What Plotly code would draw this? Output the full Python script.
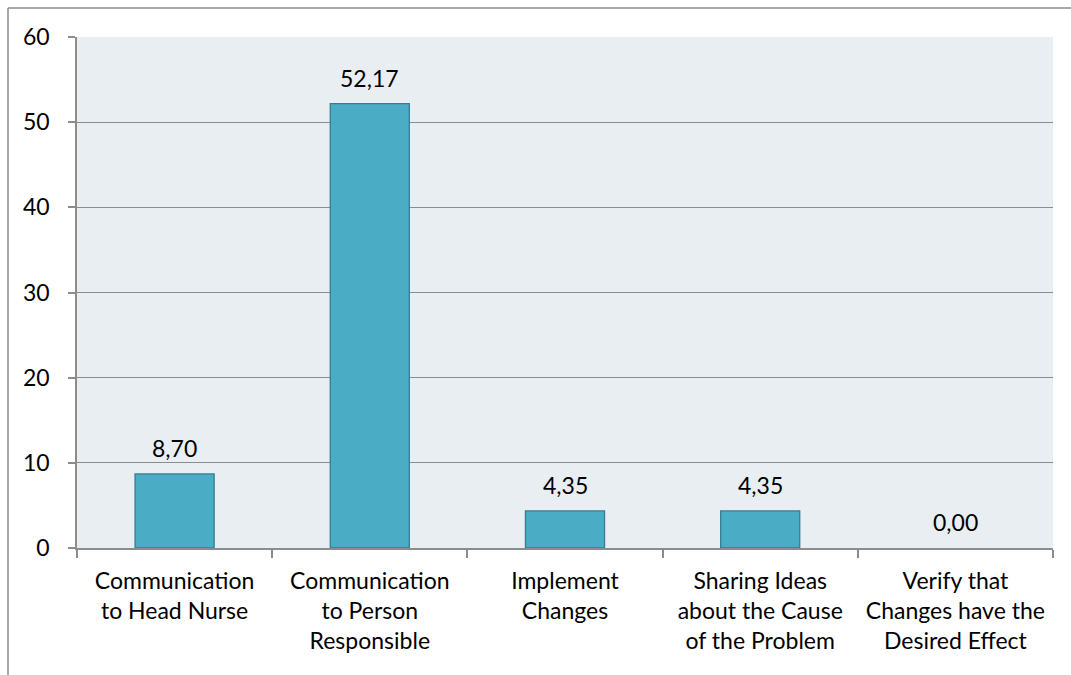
import plotly.graph_objects as go

categories = [
    "Communication<br>to Head Nurse",
    "Communication<br>to Person<br>Responsible",
    "Implement<br>Changes",
    "Sharing Ideas<br>about the Cause<br>of the Problem",
    "Verify that<br>Changes have the<br>Desired Effect",
]
values = [8.70, 52.17, 4.35, 4.35, 0.00]
y_ticks = [0, 10, 20, 30, 40, 50, 60]

FONT = "Lato, Open Sans, sans-serif"
FSIZE = 23
GRID = "#8c8c8c"

fig = go.Figure()
fig.add_trace(go.Bar(
    x=categories,
    y=values,
    width=0.405,
    marker=dict(
        color="#4BACC6",
        line=dict(color="#357D91", width=[1.3 if v > 0 else 0 for v in values]),
    ),
    hoverinfo="skip",
))

# value labels with comma decimal separator
for cat, v in zip(categories, values):
    fig.add_annotation(
        x=cat, y=v, text=f"{v:.2f}".replace(".", ","),
        showarrow=False, yanchor="bottom", yshift=10,
        font=dict(family=FONT, size=FSIZE, color="#000000"),
    )

fig.update_layout(
    width=1071, height=675,
    margin=dict(l=77, r=18, t=37, b=127),
    paper_bgcolor="#ffffff",
    plot_bgcolor="#E8EEF2",
    showlegend=False,
    font=dict(family=FONT, size=FSIZE, color="#000000"),
)
fig.update_xaxes(
    showline=True, linecolor=GRID, linewidth=1.5,
    ticks="outside", tickson="boundaries", ticklen=8, tickcolor=GRID, tickwidth=1.5,
    showgrid=False, tickfont=dict(family=FONT, size=FSIZE),
    ticklabelstandoff=12,
)
fig.update_yaxes(
    range=[0, 60], tickvals=y_ticks,
    showline=True, linecolor=GRID, linewidth=1.5,
    ticks="outside", ticklen=7, tickcolor=GRID, tickwidth=1.5,
    showgrid=True, gridcolor=GRID, gridwidth=1.3,
    zeroline=False, tickfont=dict(family=FONT, size=FSIZE),
    ticklabelstandoff=14,
)

# outer chart frame (top and left edges)
fig.add_shape(type="line", xref="paper", yref="paper",
              x0=-69/976, x1=1.1, y0=1 + 29/511, y1=1 + 29/511,
              line=dict(color="#8c8c8c", width=1.5))
fig.add_shape(type="line", xref="paper", yref="paper",
              x0=-69/976, x1=-69/976, y0=-0.3, y1=1 + 29/511,
              line=dict(color="#8c8c8c", width=1.5))

fig.write_html("out.html")
